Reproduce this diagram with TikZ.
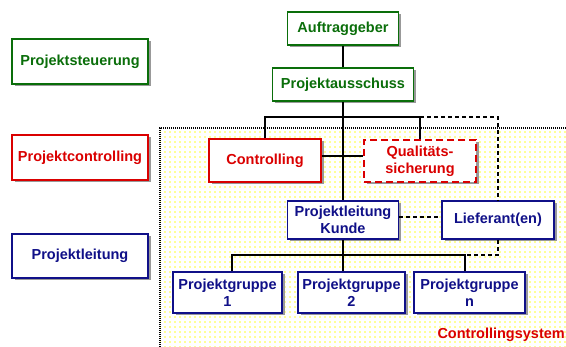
\documentclass[tikz,border=0pt]{standalone}
\usepackage{fontspec}
\setmainfont{Liberation Sans}
\usetikzlibrary{shadows,patterns,calc}
\definecolor{cgreen}{RGB}{10,110,10}
\definecolor{cred}{RGB}{218,0,0}
\definecolor{cblue}{RGB}{16,16,136}
\definecolor{dotyellow}{RGB}{255,255,150}
\pgfdeclarepatternformonly{ydots}{\pgfqpoint{-1pt}{-1pt}}{\pgfqpoint{1pt}{1pt}}{\pgfqpoint{5pt}{5pt}}{%
  \pgfpathrectangle{\pgfqpoint{-1pt}{-1pt}}{\pgfqpoint{2pt}{2pt}}\pgfusepath{fill}}
\begin{document}
\begin{tikzpicture}[x=1pt,y=-1pt,
  box/.style={draw, line width=1.8pt, fill=white, align=center, inner sep=0pt,
    font=\fontsize{14.5}{17}\selectfont\bfseries,
    drop shadow={shadow xshift=2.5pt, shadow yshift=-2.5pt, fill=black!40, opacity=1}},
  gbox/.style={box, draw=cgreen, text=cgreen},
  rbox/.style={box, draw=cred, text=cred},
  bbox/.style={box, draw=cblue, text=cblue},
  conn/.style={line width=1.4pt, black},
  dconn/.style={conn, dash pattern=on 4pt off 3pt}]
\useasboundingbox (0,0) rectangle (566,347);
% controlling system region
\fill[white] (160,128) rectangle (566,347);
\fill[pattern=ydots, pattern color=dotyellow] (160,128) rectangle (566,347);
\draw[line width=1.6pt, dash pattern=on 1pt off 1pt] (160,347) -- (160,128) -- (566,128);
% left legend boxes
\node[gbox, minimum width=136pt, minimum height=45pt] (steu) at (80,61.5) {Projektsteuerung};
\node[rbox, minimum width=136pt, minimum height=45pt] (pcon) at (80,157.5) {Projektcontrolling};
\node[bbox, minimum width=136pt, minimum height=44pt] (pl) at (80,256) {Projektleitung};
% organisation
\node[gbox, minimum width=111pt, minimum height=33pt] (auf) at (343,28.5) {Auftraggeber};
\node[gbox, minimum width=141pt, minimum height=33pt] (aus) at (343,84.5) {Projektausschuss};
\node[rbox, minimum width=112pt, minimum height=43pt] (ctrl) at (265,160.5) {Controlling};
\node[rbox, dash pattern=on 7pt off 4pt, minimum width=112pt, minimum height=42pt] (qs) at (420,161) {Qualitäts-\\sicherung};
\node[bbox, minimum width=111pt, minimum height=38pt] (plk) at (343,220) {Projektleitung\\Kunde};
\node[bbox, minimum width=112pt, minimum height=38pt] (lief) at (498,220) {Lieferant(en)};
\node[bbox, minimum width=109pt, minimum height=41pt] (pg1) at (227.5,292.5) {Projektgruppe\\1};
\node[bbox, minimum width=107pt, minimum height=41pt] (pg2) at (351.5,292.5) {Projektgruppe\\2};
\node[bbox, minimum width=111pt, minimum height=41pt] (pgn) at (469.5,292.5) {Projektgruppe\\n};
\node[anchor=base east, inner sep=0pt, text=cred, font=\fontsize{14.5}{17}\selectfont\bfseries] (cs) at (565,339) {Controllingsystem};
% coordinates
\coordinate (tb) at (343,117);
\coordinate (dc) at (498,117);
\coordinate (mid) at (343,156);
\coordinate (dl) at (420,217);
\coordinate (bb) at (343,255);
\coordinate (b1) at (232,255);
\coordinate (bn) at (465,255);
% connectors
\draw[conn] (auf.south) -- (aus.north);
\draw[conn] (aus.south) -- (plk.north);
\draw[conn] (ctrl.north) |- (tb) -| (qs.north);
\draw[conn] (ctrl.east |- mid) -- (qs.west |- mid);
\draw[dconn] (qs.north |- tb) -- (dc) -- (lief.north);
\draw[dconn] (plk.east |- dl) -- (lief.west |- dl);
\draw[conn] (plk.south) -- (bb |- pg2.north);
\draw[conn] (b1 |- pg1.north) -- (b1) -- (bn) -- (bn |- pgn.north);
\draw[dconn] (lief.south) |- (bn);
\end{tikzpicture}
\end{document}
